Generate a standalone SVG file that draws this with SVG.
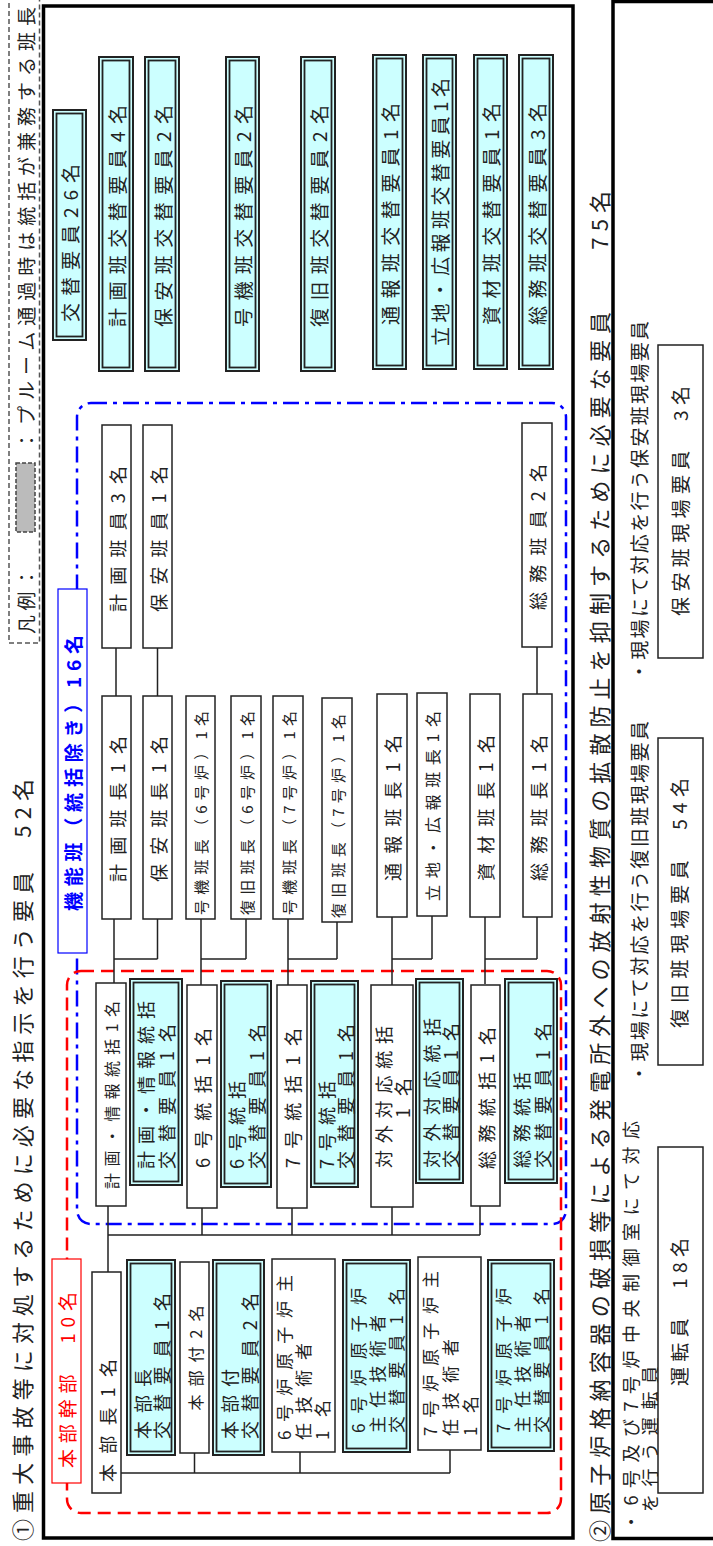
<svg xmlns="http://www.w3.org/2000/svg" width="713" height="1546" viewBox="0 0 713 1546">
<style>
.t{font-family:"Noto Sans CJK JP","Noto Sans CJK SC",sans-serif;fill:#222;dominant-baseline:central}
.c{text-anchor:middle}
.s{text-anchor:start}
.f15{font-size:15px}.f16{font-size:16px}.f17{font-size:17px}.f18{font-size:18px}.f19{font-size:19px}.f20{font-size:20px}.f22{font-size:22px}
.w{fill:#fff;stroke:#222;stroke-width:1.5}
.cy{fill:#ccffff;stroke:#222;stroke-width:2}
.cyi{fill:none;stroke:#222;stroke-width:1.8}
.ln{fill:none;stroke:#222;stroke-width:1.5}
</style>
<rect width="713" height="1546" fill="#fff"/>
<g id="frames">
<rect x="43.5" y="6" width="529.5" height="1532" fill="none" stroke="#000" stroke-width="3.5"/>
<rect x="613" y="1.5" width="120" height="1537" fill="none" stroke="#000" stroke-width="3.5"/>
</g>
<g id="legend">
<rect x="9" y="-5" width="30.5" height="648" fill="none" stroke="#555" stroke-width="1.5" stroke-dasharray="5 3"/>
<text class="t s f19" transform="translate(25,634) rotate(-90)" textLength="66">凡例：</text>
<rect x="16" y="463" width="19" height="69" fill="#bbb" stroke="#444" stroke-width="1.5" stroke-dasharray="4 2"/>
<text class="t s f19" transform="translate(25,450) rotate(-90)" textLength="443">：プルーム通過時は統括が兼務する班長</text>
</g>
<g id="captions">
<text class="t s f22" transform="translate(21,1541) rotate(-90)" textLength="762">①重大事故等に対処するために必要な指示を行う要員　52名</text>
<text class="t s f22" transform="translate(598,1542) rotate(-90)" textLength="1351">②原子炉格納容器の破損等による発電所外への放射性物質の拡散防止を抑制するために必要な要員　　75名</text>
</g>
<g id="groups">
<rect x="77" y="403" width="489" height="821" rx="14" fill="none" stroke="#0000ff" stroke-width="2.5" stroke-dasharray="16 6 4 6"/>
<rect x="67" y="971" width="494" height="542" rx="14" fill="none" stroke="#ff0000" stroke-width="2.5" stroke-dasharray="13 7"/>
</g>
<g id="connectors">
<path class="ln" d="M116,648V696M157.5,648V696M537,647V694
M114,919V983M114,959H157.5M157.5,919V959
M201,919V985M201,959H246M246,919V959
M288,919V985M288,959H337M337,922V959
M392,917V985M392,959H432M432,916V959
M485,917V984M485,959H537M537,917V959
M108,1206V1272M108,1235H480M202,1208V1235M292,1208V1235M392,1207V1235M480,1206V1235
M121,1473H450M194.5,1453V1473M300,1452V1473M450,1450V1473"/>
</g>
<g id="label-kinou">
<rect x="58" y="589" width="29" height="364" fill="#fff" stroke="#0000ff" stroke-width="1.2"/>
<text class="t c f19" style="fill:#0000ff;font-weight:bold" transform="translate(72.5,773) rotate(-90)" textLength="276">機能班（統括除き）16名</text>
</g>
<g id="label-honbu">
<rect x="52" y="1259" width="29" height="224" fill="#fff" stroke="#ff0000" stroke-width="1.2"/>
<text class="t c f19" style="fill:#ff0000" transform="translate(66.5,1380) rotate(-90)" textLength="176">本部幹部　10名</text>
</g>
<g id="kotai-all"><rect class="cy" x="53" y="110" width="33" height="230"/><rect class="cyi" x="56.5" y="113.5" width="26" height="223"/><text class="t c f19" transform="translate(69.5,243) rotate(-90)" textLength="158">交替要員26名</text></g>
<g id="kotai-keikaku"><rect class="cy" x="99" y="57" width="34" height="314"/><rect class="cyi" x="102.5" y="60.5" width="27" height="307"/><text class="t c f19" transform="translate(116,216) rotate(-90)" textLength="222">計画班交替要員4名</text></g>
<g id="kotai-hoan"><rect class="cy" x="145" y="57" width="34" height="314"/><rect class="cyi" x="148.5" y="60.5" width="27" height="307"/><text class="t c f19" transform="translate(162,216) rotate(-90)" textLength="222">保安班交替要員2名</text></g>
<g id="kotai-gouki"><rect class="cy" x="226" y="57" width="33" height="314"/><rect class="cyi" x="229.5" y="60.5" width="26" height="307"/><text class="t c f19" transform="translate(242.5,216) rotate(-90)" textLength="222">号機班交替要員2名</text></g>
<g id="kotai-fukkyu"><rect class="cy" x="301" y="57" width="34" height="314"/><rect class="cyi" x="304.5" y="60.5" width="27" height="307"/><text class="t c f19" transform="translate(318,216) rotate(-90)" textLength="222">復旧班交替要員2名</text></g>
<g id="kotai-tsuho"><rect class="cy" x="373" y="55" width="33" height="314"/><rect class="cyi" x="376.5" y="58.5" width="26" height="307"/><text class="t c f19" transform="translate(389.5,214) rotate(-90)" textLength="222">通報班交替要員1名</text></g>
<g id="kotai-ritchi"><rect class="cy" x="423" y="55" width="33" height="314"/><rect class="cyi" x="426.5" y="58.5" width="26" height="307"/><text class="t c f19" transform="translate(439.5,212) rotate(-90)" textLength="268">立地・広報班交替要員1名</text></g>
<g id="kotai-shizai"><rect class="cy" x="474" y="55" width="33" height="314"/><rect class="cyi" x="477.5" y="58.5" width="26" height="307"/><text class="t c f19" transform="translate(490.5,214) rotate(-90)" textLength="222">資材班交替要員1名</text></g>
<g id="kotai-somu"><rect class="cy" x="519" y="55" width="34" height="314"/><rect class="cyi" x="522.5" y="58.5" width="27" height="307"/><text class="t c f19" transform="translate(536,214) rotate(-90)" textLength="222">総務班交替要員3名</text></g>
<g id="hanin-keikaku"><rect class="w" x="102" y="425" width="29" height="223"/><text class="t c f18" transform="translate(116.5,539) rotate(-90)" textLength="146">計画班員3名</text></g>
<g id="hanin-hoan"><rect class="w" x="143" y="425" width="29" height="223"/><text class="t c f18" transform="translate(157.5,539) rotate(-90)" textLength="146">保安班員1名</text></g>
<g id="hanin-somu"><rect class="w" x="522" y="423" width="30" height="224"/><text class="t c f18" transform="translate(537,537) rotate(-90)" textLength="146">総務班員2名</text></g>
<g id="hancho-keikaku"><rect class="w" x="102" y="696" width="29" height="223"/><text class="t c f18" transform="translate(116.5,809) rotate(-90)" textLength="146">計画班長1名</text></g>
<g id="hancho-hoan"><rect class="w" x="143" y="696" width="29" height="223"/><text class="t c f18" transform="translate(157.5,809) rotate(-90)" textLength="146">保安班長1名</text></g>
<g id="hancho-gouki6"><rect class="w" x="186" y="696" width="29" height="223"/><text class="t c f15" transform="translate(200.5,813) rotate(-90)" textLength="204">号機班長（6号炉）1名</text></g>
<g id="hancho-fukkyu6"><rect class="w" x="231" y="696" width="30" height="223"/><text class="t c f15" transform="translate(246,813) rotate(-90)" textLength="204">復旧班長（6号炉）1名</text></g>
<g id="hancho-gouki7"><rect class="w" x="273" y="696" width="30" height="223"/><text class="t c f15" transform="translate(288,813) rotate(-90)" textLength="204">号機班長（7号炉）1名</text></g>
<g id="hancho-fukkyu7"><rect class="w" x="322" y="698" width="30" height="224"/><text class="t c f15" transform="translate(337,816) rotate(-90)" textLength="204">復旧班長（7号炉）1名</text></g>
<g id="hancho-tsuho"><rect class="w" x="377" y="694" width="30" height="223"/><text class="t c f18" transform="translate(392,808) rotate(-90)" textLength="146">通報班長1名</text></g>
<g id="hancho-ritchi"><rect class="w" x="417" y="693" width="30" height="223"/><text class="t c f16" transform="translate(432,806) rotate(-90)" textLength="190">立地・広報班長1名</text></g>
<g id="hancho-shizai"><rect class="w" x="470" y="694" width="30" height="223"/><text class="t c f18" transform="translate(485,808) rotate(-90)" textLength="146">資材班長1名</text></g>
<g id="hancho-somu"><rect class="w" x="523" y="694" width="29" height="223"/><text class="t c f18" transform="translate(537.5,808) rotate(-90)" textLength="146">総務班長1名</text></g>
<g id="tokatsu-keikaku"><rect class="w" x="96" y="983" width="30" height="223"/><text class="t c f16" transform="translate(111,1095) rotate(-90)" textLength="188">計画・情報統括1名</text></g>
<g id="tokatsu-keikaku-kotai"><rect class="cy" x="130" y="979" width="52" height="206"/><rect class="cyi" x="133.5" y="982.5" width="45" height="199"/><text class="t s f18" transform="translate(145,1169) rotate(-90)" textLength="168">計画・情報統括</text><text class="t s f18" transform="translate(166,1169) rotate(-90)" textLength="145">交替要員1名</text></g>
<g id="tokatsu-6"><rect class="w" x="187" y="985" width="30" height="223"/><text class="t c f18" transform="translate(202,1098) rotate(-90)" textLength="140">6号統括1名</text></g>
<g id="tokatsu-6-kotai"><rect class="cy" x="221" y="981" width="50" height="206"/><rect class="cyi" x="224.5" y="984.5" width="43" height="199"/><text class="t s f18" transform="translate(235.5,1169) rotate(-90)" textLength="88">6号統括</text><text class="t s f18" transform="translate(255.5,1169) rotate(-90)" textLength="145">交替要員1名</text></g>
<g id="tokatsu-7"><rect class="w" x="277" y="985" width="30" height="223"/><text class="t c f18" transform="translate(292,1098) rotate(-90)" textLength="140">7号統括1名</text></g>
<g id="tokatsu-7-kotai"><rect class="cy" x="311" y="981" width="47" height="206"/><rect class="cyi" x="314.5" y="984.5" width="40" height="199"/><text class="t s f18" transform="translate(325.5,1169) rotate(-90)" textLength="88">7号統括</text><text class="t s f18" transform="translate(344.5,1169) rotate(-90)" textLength="145">交替要員1名</text></g>
<g id="tokatsu-taigai"><rect class="w" x="371" y="985" width="42" height="222"/><text class="t c f18" transform="translate(383,1097) rotate(-90)" textLength="142">対外対応統括</text><text class="t c f18" transform="translate(402,1098) rotate(-90)" textLength="40">1名</text></g>
<g id="tokatsu-taigai-kotai"><rect class="cy" x="416" y="979" width="47" height="204"/><rect class="cyi" x="419.5" y="982.5" width="40" height="197"/><text class="t s f18" transform="translate(430.5,1168) rotate(-90)" textLength="150">対外対応統括</text><text class="t s f18" transform="translate(449.5,1168) rotate(-90)" textLength="145">交替要員1名</text></g>
<g id="tokatsu-somu"><rect class="w" x="471" y="985" width="29" height="221"/><text class="t c f18" transform="translate(486,1098) rotate(-90)" textLength="142">総務統括1名</text></g>
<g id="tokatsu-somu-kotai"><rect class="cy" x="505" y="979" width="52" height="204"/><rect class="cyi" x="508.5" y="982.5" width="45" height="197"/><text class="t s f18" transform="translate(521,1168) rotate(-90)" textLength="96">総務統括</text><text class="t s f18" transform="translate(542,1168) rotate(-90)" textLength="145">交替要員1名</text></g>
<g id="honbucho"><rect class="w" x="92" y="1272" width="29" height="221"/><text class="t s f18" transform="translate(107,1482) rotate(-90)" textLength="123">本部長1名</text></g>
<g id="honbucho-kotai"><rect class="cy" x="127" y="1260" width="48" height="195"/><rect class="cyi" x="130.5" y="1263.5" width="41" height="188"/><text class="t s f18" transform="translate(141.5,1439) rotate(-90)" textLength="70">本部長</text><text class="t s f18" transform="translate(160.5,1439) rotate(-90)" textLength="146">交替要員1名</text></g>
<g id="honbuzuke"><rect class="w" x="180" y="1262" width="29" height="191"/><text class="t c f16" transform="translate(195,1358) rotate(-90)" textLength="105">本部付2名</text></g>
<g id="honbuzuke-kotai"><rect class="cy" x="213" y="1260" width="51" height="195"/><rect class="cyi" x="216.5" y="1263.5" width="44" height="188"/><text class="t s f18" transform="translate(229,1439) rotate(-90)" textLength="70">本部付</text><text class="t s f18" transform="translate(249,1439) rotate(-90)" textLength="146">交替要員2名</text></g>
<g id="shunin-6"><rect class="w" x="272" y="1259" width="63" height="193"/><text class="t s f17" transform="translate(283.5,1440) rotate(-90)" textLength="165">6号炉原子炉主</text><text class="t s f17" transform="translate(302.5,1440) rotate(-90)" textLength="97">任技術者</text><text class="t s f17" transform="translate(321.5,1440) rotate(-90)" textLength="40">1名</text></g>
<g id="shunin-6-kotai"><rect class="cy" x="343" y="1260" width="67" height="192"/><rect class="cyi" x="346.5" y="1263.5" width="60" height="185"/><text class="t s f17" transform="translate(357.5,1433) rotate(-90)" textLength="145">6号炉原子炉</text><text class="t s f17" transform="translate(376.5,1433) rotate(-90)" textLength="118">主任技術者</text><text class="t s f17" transform="translate(395.5,1433) rotate(-90)" textLength="145">交替要員1名</text></g>
<g id="shunin-7"><rect class="w" x="418" y="1257" width="63" height="193"/><text class="t s f17" transform="translate(429.5,1436) rotate(-90)" textLength="165">7号炉原子炉主</text><text class="t s f17" transform="translate(449.5,1436) rotate(-90)" textLength="97">任技術者</text><text class="t s f17" transform="translate(469.5,1436) rotate(-90)" textLength="40">1名</text></g>
<g id="shunin-7-kotai"><rect class="cy" x="488" y="1260" width="66" height="191"/><rect class="cyi" x="491.5" y="1263.5" width="59" height="184"/><text class="t s f17" transform="translate(502.5,1433) rotate(-90)" textLength="145">7号炉原子炉</text><text class="t s f17" transform="translate(521.5,1433) rotate(-90)" textLength="118">主任技術者</text><text class="t s f17" transform="translate(540.5,1433) rotate(-90)" textLength="145">交替要員1名</text></g>
<g id="genba-hoan">
<text class="t s f19" transform="translate(638,681) rotate(-90)" textLength="360">・現場にて対応を行う保安班現場要員</text>
<rect class="w" x="658" y="345" width="45" height="313"/>
<text class="t c f19" transform="translate(679,501) rotate(-90)" textLength="230">保安班現場要員　3名</text>
</g>
<g id="genba-fukkyu">
<text class="t s f19" transform="translate(638,1083) rotate(-90)" textLength="362">・現場にて対応を行う復旧班現場要員</text>
<rect class="w" x="658" y="738" width="45" height="327"/>
<text class="t c f19" transform="translate(678,903) rotate(-90)" textLength="250">復旧班現場要員　54名</text>
</g>
<g id="untenin">
<text class="t s f18" transform="translate(630,1531) rotate(-90)" textLength="410">・6号及び7号炉中央制御室にて対応</text>
<text class="t s f18" transform="translate(649,1512) rotate(-90)" textLength="146">を行う運転員</text>
<rect class="w" x="658" y="1147" width="45" height="346"/>
<text class="t c f19" transform="translate(678,1312) rotate(-90)" textLength="148">運転員　18名</text>
</g>
</svg>
